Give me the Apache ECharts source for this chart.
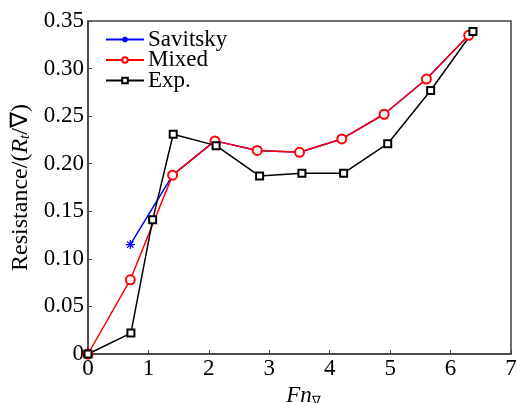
<!DOCTYPE html>
<html><head><meta charset="utf-8">
<script src="https://cdn.jsdelivr.net/npm/echarts@6/dist/echarts.min.js"></script>
<style>html,body{margin:0;padding:0;background:#fff}#c{width:517px;height:403px}</style>
</head><body><div id="c"></div>
<script>
const savitskyX = [0.7, 1.4, 2.1, 2.8, 3.5, 4.2, 4.9, 5.6, 6.3];
const savitskyY = [0.115, 0.188, 0.224, 0.214, 0.212, 0.226, 0.252, 0.289, 0.335];
const mixedX = [0, 0.7, 1.4, 2.1, 2.8, 3.5, 4.2, 4.9, 5.6, 6.3];
const mixedY = [0, 0.078, 0.188, 0.224, 0.214, 0.212, 0.226, 0.252, 0.289, 0.335];
const expX = [0, 0.71, 1.07, 1.41, 2.12, 2.84, 3.54, 4.23, 4.96, 5.67, 6.37];
const expY = [0, 0.022, 0.141, 0.231, 0.219, 0.187, 0.190, 0.190, 0.221, 0.277, 0.339];
const xTicks = [0, 7, 1];
const yTicks = [0, 0.35, 0.05];

const FONT = '"Liberation Serif", "Times New Roman", serif';
const FS = 23;
const zip = (a, b) => a.map((v, i) => [v, b[i]]);
const star = 'path://M0,-1L0,1M-1,0L1,0M-0.7,-0.7L0.7,0.7M-0.7,0.7L0.7,-0.7';
const axisCol = '#404040';

const chart = echarts.init(document.getElementById('c'));
chart.setOption({
  animation: false,
  grid: { left: 88, right: 6, top: 21, bottom: 49, show: true, borderColor: axisCol, borderWidth: 1.5,
          outerBoundsMode: 'none', containLabel: false },
  legend: {
    orient: 'vertical', left: 105, top: 28, padding: 0, itemWidth: 38, itemHeight: 7, itemGap: -2.5,
    textStyle: { fontFamily: FONT, fontSize: FS, color: '#000', padding: [0,0,0,-1] },
    data: ['Savitsky', 'Mixed', 'Exp.']
  },
  xAxis: {
    type: 'value', min: xTicks[0], max: xTicks[1], interval: xTicks[2],
    axisLine: { show: true, lineStyle: { color: axisCol, width: 1.5 } },
    axisTick: { show: true, inside: true, length: 4, lineStyle: { color: axisCol } },
    splitLine: { show: false },
    axisLabel: { fontFamily: FONT, fontSize: FS, color: '#000', margin: 3 },
    name: '{i|Fn}{s|∇}', nameLocation: 'middle', nameGap: 23,
    nameTextStyle: { padding: [0, 0, 0, 8], rich: {
      i: { fontFamily: FONT, fontSize: FS, fontStyle: 'italic', color: '#000' },
      s: { fontFamily: FONT, fontSize: 13, color: '#000', padding: [10, 0, 0, 0] }
    } }
  },
  yAxis: {
    type: 'value', min: yTicks[0], max: yTicks[1], interval: yTicks[2],
    axisLine: { show: true, lineStyle: { color: axisCol, width: 1.5 } },
    axisTick: { show: true, inside: true, length: 4, lineStyle: { color: axisCol } },
    splitLine: { show: false },
    axisLabel: { fontFamily: FONT, fontSize: FS, color: '#000', margin: 4,
      formatter: v => v === 0 ? '0' : v.toFixed(2) },
    name: '{n|Resistance/(}{i|R}{s|t}{n|/∇)}', nameLocation: 'middle', nameGap: 41, nameRotate: 90,
    nameTextStyle: { rich: {
      n: { fontFamily: FONT, fontSize: 24, color: '#000' },
      i: { fontFamily: FONT, fontSize: 24, fontStyle: 'italic', color: '#000' },
      s: { fontFamily: FONT, fontSize: 15, fontStyle: 'italic', color: '#000', padding: [10, 0, 0, 0] }
    } }
  },
  series: [
    { name: 'Savitsky', type: 'line', data: zip(savitskyX, savitskyY), symbol: star, symbolSize: 9,
      lineStyle: { color: '#0000ff', width: 1.5 },
      itemStyle: { color: '#0000ff', borderColor: '#0000ff', borderWidth: 1.2 } },
    { name: 'Mixed', type: 'line', data: zip(mixedX, mixedY), symbol: 'emptyCircle', symbolSize: 9,
      lineStyle: { color: '#ff0000', width: 1.5 },
      itemStyle: { color: '#ff0000', borderColor: '#ff0000', borderWidth: 1.2 } },
    { name: 'Exp.', type: 'line', data: zip(expX, expY), symbol: 'emptyRect', symbolSize: 7,
      lineStyle: { color: '#000', width: 1.5 },
      itemStyle: { color: '#000', borderColor: '#000', borderWidth: 1.2 } }
  ]
});
</script></body></html>
